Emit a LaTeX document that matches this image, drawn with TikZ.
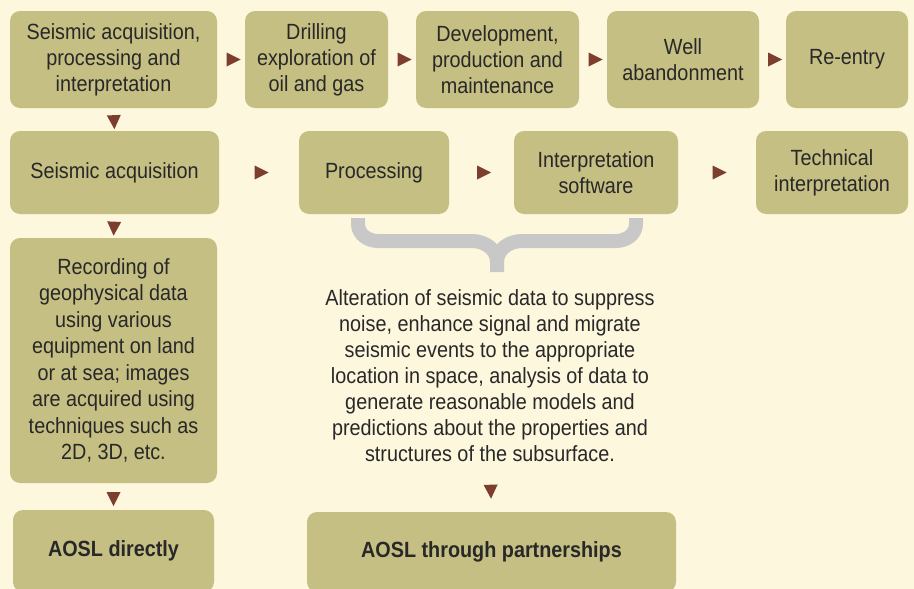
\documentclass[tikz,border=0pt]{standalone}
\usepackage{fontspec}
\setmainfont[FakeStretch=0.9]{Liberation Sans}
\usetikzlibrary{shapes.geometric}

\definecolor{paper}{RGB}{253,247,221}
\definecolor{olive}{RGB}{197,191,131}
\definecolor{rust}{RGB}{125,62,46}
\definecolor{bracegray}{RGB}{200,200,200}
\definecolor{ink}{RGB}{40,40,40}

\tikzset{
  stage/.style={fill=olive, rounded corners=10pt, align=center, text=ink, inner sep=2pt,
    font=\fontsize{22}{26}\selectfont},
  tri/.style={isosceles triangle, isosceles triangle apex angle=53, fill=rust, draw=none,
    inner sep=0pt, minimum width=14pt, minimum height=14pt, sloped, allow upside down},
  brace/.style={bracegray, line width=14pt},
}

\begin{document}
\begin{tikzpicture}[x=1pt,y=-1pt]
%canvas
 \useasboundingbox (0,0) rectangle (914,589);
 \clip (0,0) rectangle (914,589);
 \fill[paper] (0,0) rectangle (914,589);
%top row
 \node[stage, minimum width=207pt, minimum height=97pt] (survey) at (113.5,59.5) {Seismic acquisition,\\processing and\\interpretation};
 \node[stage, minimum width=143pt, minimum height=97pt] (drill) at (316.5,59.5) {Drilling\\exploration of\\oil and gas};
 \node[stage, minimum width=163pt, minimum height=97pt] (develop) at (497.5,59.5) {Development,\\production and\\maintenance};
 \node[stage, minimum width=152pt, minimum height=97pt] (abandon) at (683,59.5) {Well\\abandonment};
 \node[stage, minimum width=122pt, minimum height=97pt] (reentry) at (847,59.5) {Re-entry};
%second row
 \node[stage, minimum width=209pt, minimum height=83pt] (acq) at (114.5,172.5) {Seismic acquisition};
 \node[stage, minimum width=150pt, minimum height=83pt] (proc) at (374,172.5) {Processing};
 \node[stage, minimum width=164pt, minimum height=83pt] (soft) at (596,172.5) {Interpretation\\software};
 \node[stage, minimum width=152pt, minimum height=83pt] (tech) at (832,172.5) {Technical\\interpretation};
%recording box and note
 \node[stage, minimum width=207pt, minimum height=245pt, font=\fontsize{22}{26.5}\selectfont] (record) at (113.5,360.5)
  {Recording of\\geophysical data\\using various\\equipment on land\\or at sea; images\\are acquired using\\techniques such as\\2D, 3D, etc.};
 \node[align=center, text=ink, inner sep=4pt, font=\fontsize{22}{26}\selectfont] (note) at (490,376)
  {Alteration of seismic data to suppress\\noise, enhance signal and migrate\\seismic events to the appropriate\\location in space, analysis of data to\\generate reasonable models and\\predictions about the properties and\\structures of the subsurface.};
%bottom row
 \node[stage, minimum width=201pt, minimum height=82pt, font=\fontsize{22}{26}\selectfont\bfseries] (direct) at (113.5,551) {AOSL directly};
 \node[stage, minimum width=369pt, minimum height=80pt, font=\fontsize{22}{26}\selectfont\bfseries] (partner) at (491.5,552) {AOSL through partnerships};
%arrows
 \path (survey.east) -- node[tri]{} (drill.west);
 \path (drill.east) -- node[tri]{} (develop.west);
 \path (develop.east) -- node[tri]{} (abandon.west);
 \path (abandon.east) -- node[tri]{} (reentry.west);
 \path (survey.south) -- node[tri]{} (acq.north);
 \path (acq.east) -- node[tri]{} (proc.west);
 \path (proc.east) -- node[tri]{} (soft.west);
 \path (soft.east) -- node[tri]{} (tech.west);
 \path (acq.south) -- node[tri]{} (record.north);
 \path (record.south) -- node[tri]{} (direct.north);
 \path (note.south) -- node[tri]{} (partner.north);
%brace under processing + software
 \draw[brace] (358,218) -- (358,224) to[out=-90,in=180] (378,241) -- (472,241) to[out=0,in=90] (497,262) -- (497,272);
 \draw[brace] (636,218) -- (636,224) to[out=-90,in=0] (616,241) -- (522,241) to[out=180,in=90] (497,262);
\end{tikzpicture}
\end{document}
